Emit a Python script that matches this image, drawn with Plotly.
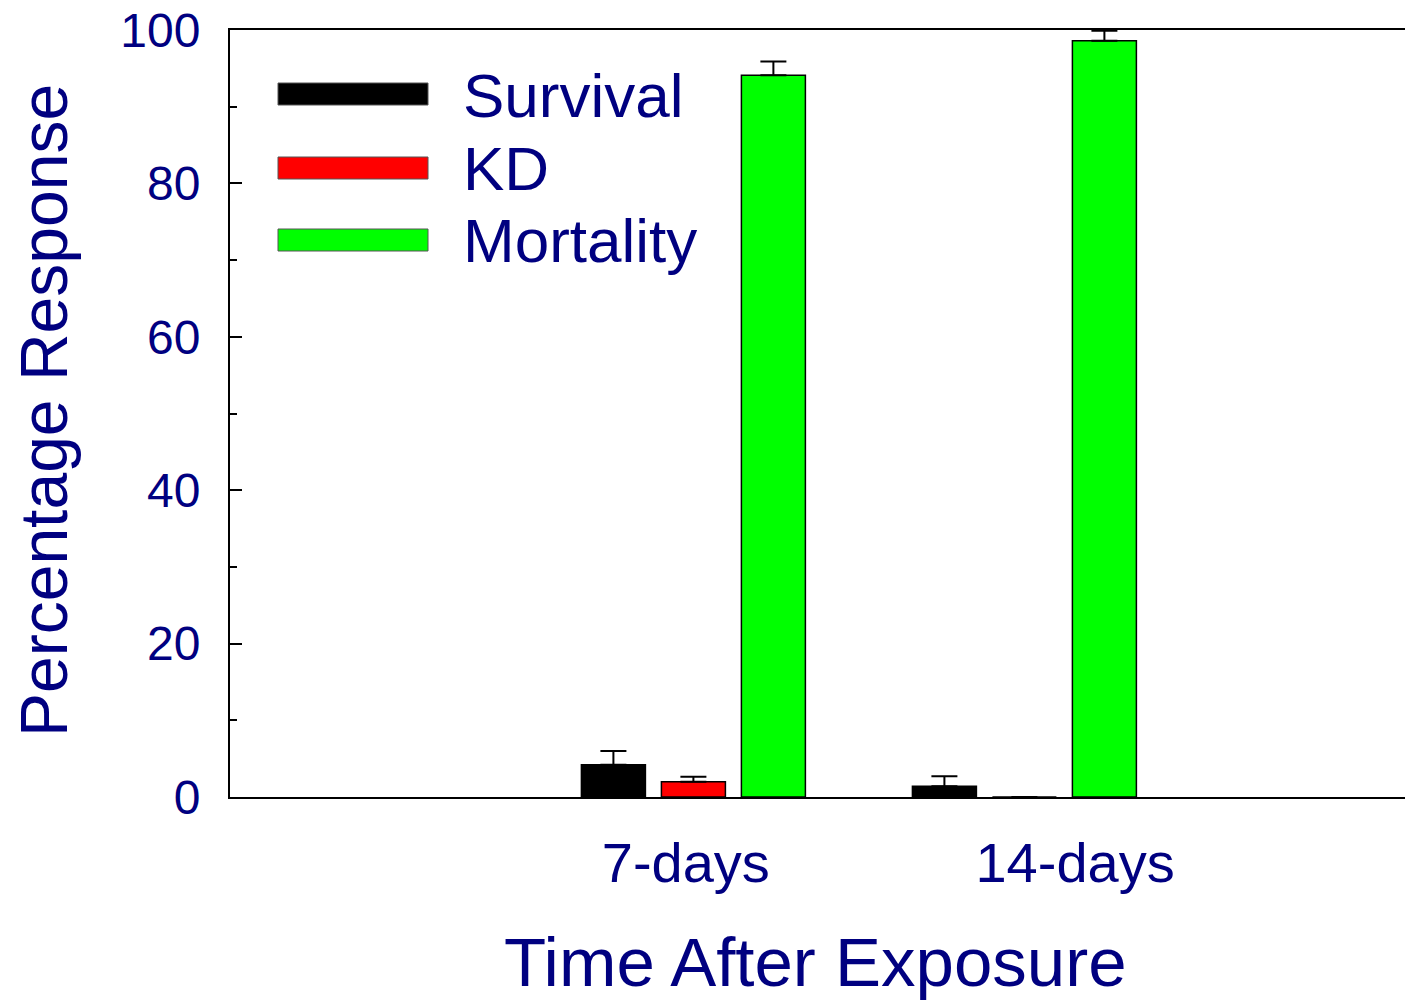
import plotly.graph_objects as go

# ---- data ----
groups = [1, 2]
tick_positions = [0.977, 2.153]
tick_labels = ["7-days", "14-days"]
series_names = ["Survival", "KD", "Mortality"]
survival = [4.2, 1.4]
survival_err = [1.8, 1.3]
kd = [2.0, 0.0]
kd_err = [0.65, 0.0]
mortality = [94.1, 98.6]
mortality_err = [1.8, 1.3]
colors = ["#000000", "#ff0000", "#00ff00"]

NAVY = "#000080"
FONT = "Liberation Sans, Arial, sans-serif"

# page has an 8px body margin; size the figure so the plot lands where the reference has it
OFF = 8
W, H = 1413 - OFF, 1000 - OFF
L, R, T = 230 - OFF, 0, 30 - OFF
B = H - (797 - OFF)
PW, PH = W - L - R, H - T - B


def px_x(p):
    return (p - OFF - L) / PW


def px_y(p):
    return (H - B - (p - OFF)) / PH


fig = go.Figure()
for name, vals, errs, col in zip(series_names, [survival, kd, mortality],
                                 [survival_err, kd_err, mortality_err], colors):
    fig.add_trace(go.Bar(
        x=groups, y=vals, name=name,
        marker=dict(color=col, line=dict(color="black", width=1.5)),
        error_y=dict(type="data", symmetric=False, array=errs,
                     arrayminus=[0] * len(errs), color="black",
                     thickness=2, width=13),
        cliponaxis=False,
        showlegend=False,
    ))

# legend drawn as swatches + labels
legend_rows = [(94, 95), (168, 168), (240, 241)]
for (sy, ty), name, col in zip(legend_rows, series_names, colors):
    fig.add_shape(type="rect", xref="paper", yref="paper",
                  x0=px_x(278), x1=px_x(428), y0=px_y(sy + 11), y1=px_y(sy - 11),
                  fillcolor=col, line=dict(color="#555555", width=1))
    fig.add_annotation(xref="paper", yref="paper", x=px_x(462), y=px_y(ty),
                       text=name, showarrow=False, xanchor="left", yanchor="middle",
                       borderpad=0,
                       font=dict(family=FONT, size=62, color=NAVY))

# axis titles
fig.add_annotation(xref="paper", yref="paper", x=px_x(815), y=px_y(962),
                   text="Time After Exposure", showarrow=False,
                   xanchor="center", yanchor="middle", borderpad=0,
                   font=dict(family=FONT, size=69, color=NAVY))
fig.add_annotation(xref="paper", yref="paper", x=px_x(44), y=px_y(411),
                   text="Percentage Response", showarrow=False, textangle=-90,
                   xanchor="center", yanchor="middle", borderpad=0,
                   font=dict(family=FONT, size=66, color=NAVY))

fig.update_layout(
    width=W, height=H,
    margin=dict(l=L, r=R, t=T, b=B, autoexpand=False),
    paper_bgcolor="white", plot_bgcolor="white",
    barmode="group", bargap=0.275, bargroupgap=0.2,
    xaxis=dict(range=[-0.4, 3.174], showgrid=False, zeroline=False,
               automargin=False,
               showline=True, mirror=True, linecolor="black", linewidth=2,
               tickmode="array", tickvals=tick_positions, ticktext=tick_labels,
               ticks="", ticklabelstandoff=16,
               tickfont=dict(family=FONT, size=56, color=NAVY)),
    yaxis=dict(range=[0, 100], showgrid=False, zeroline=False,
               automargin=False,
               showline=True, linecolor="black", linewidth=2,
               tickmode="linear", tick0=0, dtick=20,
               ticks="inside", ticklen=12, tickwidth=1.5, tickcolor="black",
               minor=dict(dtick=10, ticks="inside", ticklen=7, tickwidth=1.5,
                          tickcolor="black", showgrid=False),
               ticklabelstandoff=18, ticklabeloverflow="allow",
               tickfont=dict(family=FONT, size=48, color=NAVY)),
)

fig.write_html("out.html")
